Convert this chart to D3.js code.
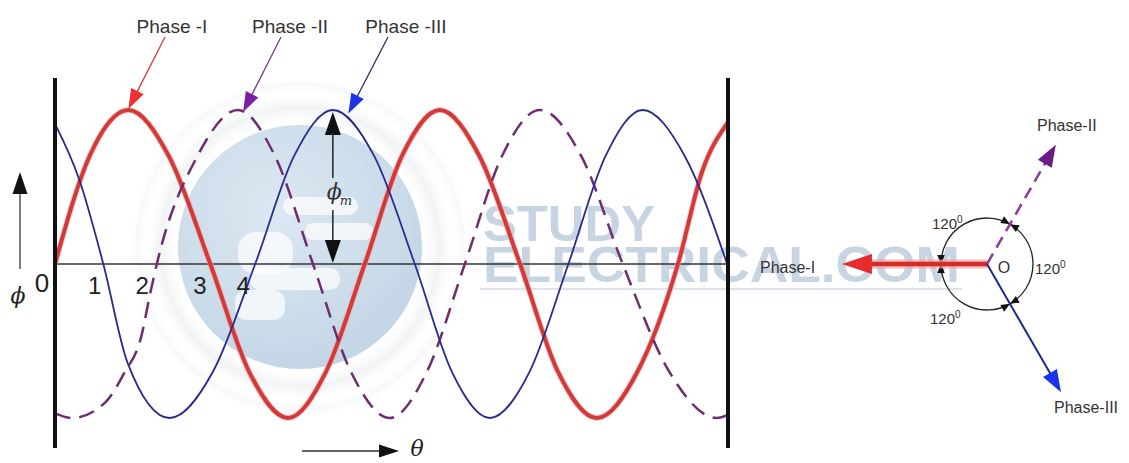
<!DOCTYPE html>
<html>
<head>
<meta charset="utf-8">
<script src="https://cdn.jsdelivr.net/npm/d3@7"></script>
<style>
  body { margin: 0; background: #fff; }
  svg { display: block; font-family: "Liberation Sans", Arial, sans-serif; }
</style>
</head>
<body>
<svg id="chart" width="1129" height="463"></svg>
<script>
// theta in degrees, flux as a fraction of phi_m
const phaseI   = [[0,0],[40,0.7],[85,1],[132,0.7],[180,0],[225,-0.7],[270,-1],[314,-0.7],[359,0],
                  [402,0.7],[446,1],[492,0.7],[539,0],[583,-0.7],[628,-1],[675,-0.7],[722,0],[750,0.6],[780,0.92]];
const phaseII  = [[0,-0.97],[20,-1],[58,-0.9],[80,-0.71],[100,-0.47],[110,-0.2],[118,0],[165,0.7],[212,1],
                  [255,0.7],[299,0],[343,-0.7],[388,-1],[431,-0.7],[475,0],[518,0.7],[562,1],[610,0.7],
                  [658,0],[712,-0.7],[767,-1],[780,-0.98]];
const phaseIII = [[0,0.91],[28,0.55],[56,0],[84,-0.64],[133,-1],[183,-0.7],[232,0],[277,0.7],[322,1],
                  [370,0.7],[417,0],[460,-0.7],[504,-1],[550,-0.7],[595,0],[638,0.7],[681,1],[730,0.7],[779,0]];

const tickLabels = ["1", "2", "3", "4"];
const tickAngles = [46, 101, 168, 218];

const topLabels = ["Phase -I", "Phase -II", "Phase -III"];
const topTips = [[85,1],[218,0.98],[340,0.97]];

const phasorNames = ["Phase-I", "Phase-II", "Phase-III"];
const phasorAngles = [180, 60, -60];
const phasorMags = [0.98, 0.93, 1.0];
const arcLabels = ["120", "120", "120"];

let svg = d3.select("#chart");
svg.append("rect").attr("width", 1129).attr("height", 463).attr("fill", "#fff");

let x = d3.scaleLinear().domain([0, 780]).range([55, 728]);
let y = d3.scaleLinear().domain([-1, 1]).range([418, 110]);

function head(g, tx, ty, dx, dy, len, half, color) {
  // dx, dy = unit direction the arrow points
  let bx = tx - dx * len, by = ty - dy * len;
  let nx = -dy, ny = dx;
  g.append("path")
    .attr("d", `M${tx},${ty}L${bx + nx * half},${by + ny * half}L${bx - nx * half},${by - ny * half}Z`)
    .attr("fill", color);
}
function unit(x0, y0, x1, y1) {
  let l = Math.hypot(x1 - x0, y1 - y0);
  return [(x1 - x0) / l, (y1 - y0) / l];
}

// ---- watermark ----
let defs = svg.append("defs");
let rg = defs.append("radialGradient").attr("id", "logo").attr("cx", "40%").attr("cy", "35%").attr("r", "70%");
rg.append("stop").attr("offset", "0%").attr("stop-color", "#dce8f2");
rg.append("stop").attr("offset", "100%").attr("stop-color", "#c2d5e5");
let halo = defs.append("radialGradient").attr("id", "halo");
halo.append("stop").attr("offset", "70%").attr("stop-color", "#fff").attr("stop-opacity", 0);
halo.append("stop").attr("offset", "82%").attr("stop-color", "#edf0f2").attr("stop-opacity", 0.8);
halo.append("stop").attr("offset", "90%").attr("stop-color", "#fff").attr("stop-opacity", 0.4);
halo.append("stop").attr("offset", "96%").attr("stop-color", "#f1f3f5").attr("stop-opacity", 0.6);
halo.append("stop").attr("offset", "100%").attr("stop-color", "#fff").attr("stop-opacity", 0);

let wm = svg.append("g");
wm.append("circle").attr("cx", 300).attr("cy", 247).attr("r", 170).attr("fill", "url(#halo)");
wm.append("circle").attr("cx", 300).attr("cy", 247).attr("r", 122).attr("fill", "url(#logo)");
[[283,197,75,18,9],[305,223,68,17,8],[238,232,55,42,18],[250,268,90,22,10],[235,290,50,30,12]].forEach(r => {
  wm.append("rect").attr("x", r[0]).attr("y", r[1]).attr("width", r[2]).attr("height", r[3])
    .attr("rx", r[4]).attr("fill", "#fff").attr("opacity", 0.7);
});
wm.append("text").attr("x", 483).attr("y", 241).attr("textLength", 172).attr("lengthAdjust", "spacingAndGlyphs")
  .attr("font-size", 50).attr("font-weight", "bold").attr("fill", "#c7d5e2").text("STUDY");
wm.append("text").attr("x", 483).attr("y", 282).attr("textLength", 477).attr("lengthAdjust", "spacingAndGlyphs")
  .attr("font-size", 50).attr("font-weight", "bold").attr("fill", "#c7d5e2").text("ELECTRICAL.COM");
wm.append("line").attr("x1", 480).attr("x2", 962).attr("y1", 289).attr("y2", 289)
  .attr("stroke", "#d3dbe3").attr("stroke-width", 1.5);

// ---- waveforms ----
svg.append("line").attr("x1", x(0)).attr("x2", x(780)).attr("y1", y(0)).attr("y2", y(0))
  .attr("stroke", "#333").attr("stroke-width", 1.5);

let line = d3.line().x(d => x(d[0])).y(d => y(d[1])).curve(d3.curveMonotoneX);

svg.append("path").datum(phaseI).attr("d", line).attr("fill", "none")
  .attr("stroke", "#f3a3a3").attr("stroke-width", 6).attr("opacity", 0.6);
svg.append("path").datum(phaseI).attr("d", line).attr("fill", "none")
  .attr("stroke", "#d23a3a").attr("stroke-width", 4);
svg.append("path").datum(phaseII).attr("d", line).attr("fill", "none")
  .attr("stroke", "#6e2d6e").attr("stroke-width", 2.5).attr("stroke-dasharray", "16,9");
svg.append("path").datum(phaseIII).attr("d", line).attr("fill", "none")
  .attr("stroke", "#2b2b8c").attr("stroke-width", 1.8);

// side bars
[0, 780].forEach(t => {
  svg.append("line").attr("x1", x(t)).attr("x2", x(t)).attr("y1", 78).attr("y2", 448)
    .attr("stroke", "#111").attr("stroke-width", 4);
});

// point labels on the axis
svg.append("text").attr("x", 42).attr("y", 292).attr("text-anchor", "middle")
  .attr("font-size", 26).attr("fill", "#222").text("0");
svg.selectAll(".tick").data(tickLabels).enter().append("text")
  .attr("x", (d, i) => x(tickAngles[i])).attr("y", 294).attr("text-anchor", "middle")
  .attr("font-size", 24).attr("fill", "#222").text(d => d);

// phi axis arrow
svg.append("line").attr("x1", 20).attr("x2", 20).attr("y1", 269).attr("y2", 190)
  .attr("stroke", "#555").attr("stroke-width", 1.5);
head(svg, 20, 172, 0, -1, 22, 7.5, "#111");
svg.append("text").attr("x", 18).attr("y", 303).attr("text-anchor", "middle")
  .attr("font-family", "DejaVu Serif").attr("font-style", "italic").attr("font-size", 22)
  .attr("fill", "#222").text("ϕ");

// theta arrow
svg.append("line").attr("x1", 302).attr("x2", 382).attr("y1", 451).attr("y2", 451)
  .attr("stroke", "#333").attr("stroke-width", 1.5);
head(svg, 399, 451, 1, 0, 20, 6.5, "#111");
svg.append("text").attr("x", 417).attr("y", 456).attr("text-anchor", "middle")
  .attr("font-family", "DejaVu Serif").attr("font-style", "italic").attr("font-size", 22)
  .attr("fill", "#222").text("θ");

// phi_m double arrow at the blue peak
let px = x(phaseIII[8][0]);
svg.append("line").attr("x1", px).attr("x2", px).attr("y1", y(1) + 20).attr("y2", 178)
  .attr("stroke", "#222").attr("stroke-width", 1.5);
svg.append("line").attr("x1", px).attr("x2", px).attr("y1", 210).attr("y2", y(0) - 20)
  .attr("stroke", "#222").attr("stroke-width", 1.5);
head(svg, px, y(1) + 2, 0, -1, 23, 8, "#111");
head(svg, px, y(0) - 1, 0, 1, 23, 8, "#111");
let pm = svg.append("text").attr("x", px - 6).attr("y", 199)
  .attr("font-family", "DejaVu Serif").attr("font-style", "italic").attr("font-size", 22).attr("fill", "#333");
pm.append("tspan").text("ϕ");
pm.append("tspan").attr("font-size", 13).attr("dy", 6).attr("dx", -2).text("m");

// top labels with pointers
let topColors = ["#d23a3a", "#7a3a8a", "#2a2a6a"];
let headColors = ["#ee3030", "#7b1fa2", "#1a33e6"];
let topX = [172, 290, 406];
let startPts = [[165,37],[281,37],[388,37]];
topLabels.forEach((lab, i) => {
  svg.append("text").attr("x", topX[i]).attr("y", 33).attr("text-anchor", "middle")
    .attr("font-size", 19).attr("fill", "#333").text(lab);
  let tx = x(topTips[i][0]), ty = y(topTips[i][1]) - 1;
  let u = unit(startPts[i][0], startPts[i][1], tx, ty);
  svg.append("line").attr("x1", startPts[i][0]).attr("y1", startPts[i][1])
    .attr("x2", tx - u[0] * 15).attr("y2", ty - u[1] * 15)
    .attr("stroke", topColors[i]).attr("stroke-width", 1.3);
  head(svg, tx, ty, u[0], u[1], 20, 7, headColors[i]);
});

// ---- phasor diagram ----
let O = [987, 264];
let r = d3.scaleLinear().domain([0, 1]).range([0, 148]);
let pg = svg.append("g");
let rad = a => a * Math.PI / 180;
let tip = i => [O[0] + r(phasorMags[i]) * Math.cos(rad(phasorAngles[i])),
                O[1] - r(phasorMags[i]) * Math.sin(rad(phasorAngles[i]))];

// arcs between phasors
let R = 46;
let arcPairs = [[60, 180], [-60, 60], [180, 300]];
arcPairs.forEach(p => {
  let path = d3.path();
  path.arc(O[0], O[1], R, -rad(p[0]), -rad(p[1]), true);
  pg.append("path").attr("d", path.toString()).attr("fill", "none")
    .attr("stroke", "#222").attr("stroke-width", 1.3);
  // arrowheads at both ends
  let a1 = rad(p[0]), a2 = rad(p[1]);
  head(pg, O[0] + R * Math.cos(a1), O[1] - R * Math.sin(a1), Math.sin(a1), Math.cos(a1), 9, 3.8, "#111");
  head(pg, O[0] + R * Math.cos(a2), O[1] - R * Math.sin(a2), -Math.sin(a2), -Math.cos(a2), 9, 3.8, "#111");
});

// Phase-I (red)
let t0 = tip(0);
pg.append("line").attr("x1", O[0]).attr("y1", O[1]).attr("x2", t0[0] + 25).attr("y2", t0[1])
  .attr("stroke", "#f2a0a0").attr("stroke-width", 9).attr("opacity", 0.7);
pg.append("line").attr("x1", O[0]).attr("y1", O[1]).attr("x2", t0[0] + 25).attr("y2", t0[1])
  .attr("stroke", "#d42a2a").attr("stroke-width", 4.5);
head(pg, t0[0], t0[1], -1, 0, 30, 10, "#e52d2d");

// Phase-II (purple dashed)
let t1 = tip(1), u1 = unit(O[0], O[1], t1[0], t1[1]);
pg.append("line").attr("x1", O[0]).attr("y1", O[1]).attr("x2", t1[0] - u1[0] * 20).attr("y2", t1[1] - u1[1] * 20)
  .attr("stroke", "#8a3a9a").attr("stroke-width", 2.5).attr("stroke-dasharray", "12,7");
head(pg, t1[0], t1[1], u1[0], u1[1], 22, 8, "#6e1a86");

// Phase-III (navy)
let t2 = tip(2), u2 = unit(O[0], O[1], t2[0], t2[1]);
pg.append("line").attr("x1", O[0]).attr("y1", O[1]).attr("x2", t2[0] - u2[0] * 20).attr("y2", t2[1] - u2[1] * 20)
  .attr("stroke", "#1f2a8a").attr("stroke-width", 2);
head(pg, t2[0], t2[1], u2[0], u2[1], 22, 8, "#1a33e6");

pg.append("text").attr("x", 1004).attr("y", 273).attr("text-anchor", "middle")
  .attr("font-size", 16).attr("fill", "#333").text("O");

let nameX = [760, 1037, 1054], nameY = [273, 131, 413];
phasorNames.forEach((n, i) => {
  pg.append("text").attr("x", nameX[i]).attr("y", nameY[i])
    .attr("font-size", 16).attr("fill", "#333").text(n);
});

let alX = [932, 1035, 930], alY = [229, 274, 324];
arcLabels.forEach((t, i) => {
  let tt = pg.append("text").attr("x", alX[i]).attr("y", alY[i]).attr("font-size", 15).attr("fill", "#333");
  tt.append("tspan").text(t);
  tt.append("tspan").attr("font-size", 10).attr("dy", -6).text("0");
});
</script>
</body>
</html>
